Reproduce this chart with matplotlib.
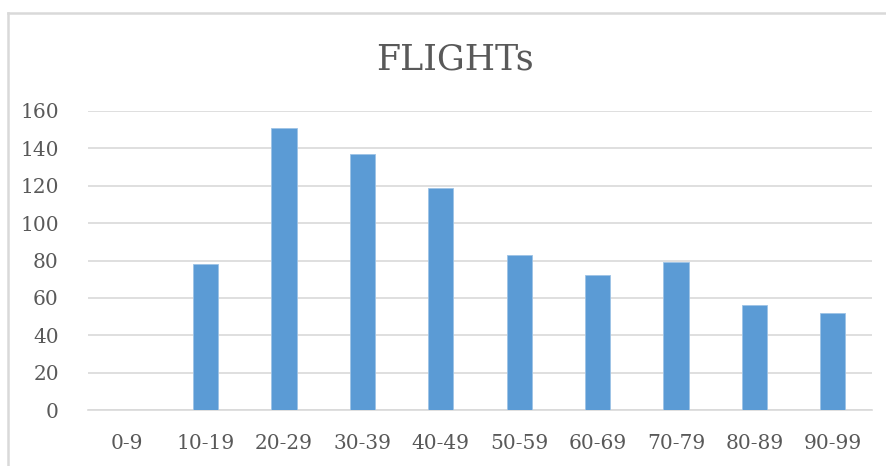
import matplotlib.pyplot as plt
from matplotlib.lines import Line2D

# flights per age bracket
age_groups = ['0-9', '10-19', '20-29', '30-39', '40-49',
              '50-59', '60-69', '70-79', '80-89', '90-99']
flights = [0, 78, 151, 137, 119, 83, 72, 79, 56, 52]

W, H = 886, 466
fig = plt.figure(figsize=(W / 100, H / 100), dpi=100)
plt.rcParams['font.family'] = ['DejaVu Serif']

ax = fig.add_axes([88 / W, 1 - 410 / H, (872 - 88) / W, (410 - 111) / H])
x = range(len(age_groups))
ax.bar(x, flights, width=0.32, color='#5b9bd5', edgecolor='#9dc3e6',
       linewidth=0.6, zorder=3)

ax.set_xlim(-0.5, len(age_groups) - 0.5)
ax.set_ylim(0, 160)
ax.set_yticks(range(0, 161, 20))
ax.set_xticks(list(x))
ax.set_xticklabels(age_groups)
ax.yaxis.grid(True, color='#d9d9d9', linewidth=1.2, zorder=0)
ax.tick_params(axis='both', length=0, labelsize=14.5, colors='#595959')
ax.tick_params(axis='y', pad=21)
ax.tick_params(axis='x', pad=17)
for side in ['top', 'right', 'left']:
    ax.spines[side].set_visible(False)
ax.spines['bottom'].set_color('#d9d9d9')
ax.spines['bottom'].set_linewidth(1.2)

fig.text(455 / W, 1 - 60 / H, 'FLIGHTs', ha='center', va='center',
         fontsize=25, color='#595959')

# chart area border (top and left edges)
fig.add_artist(Line2D([8 / W, 1], [1 - 13 / H, 1 - 13 / H],
                      transform=fig.transFigure, color='#d9d9d9', linewidth=1.8))
fig.add_artist(Line2D([8 / W, 8 / W], [0, 1 - 13 / H],
                      transform=fig.transFigure, color='#d9d9d9', linewidth=1.8))

fig.savefig('out.png', dpi=100)
